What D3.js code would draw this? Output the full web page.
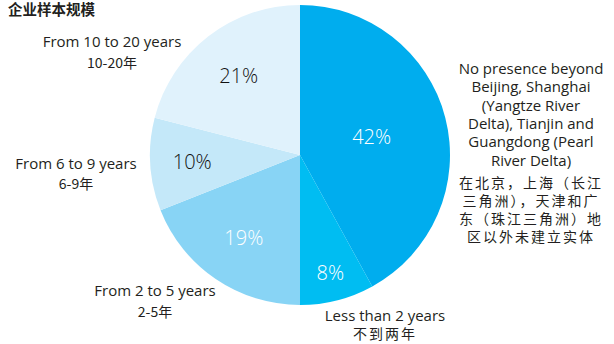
<!DOCTYPE html>
<html><head><meta charset="utf-8">
<script src="https://cdn.jsdelivr.net/npm/d3@7"></script>
<style>
html,body{margin:0;padding:0;background:#fff;}
svg{display:block;}
</style></head>
<body>
<script>
const title = "企业样本规模";
const categories = ["No presence beyond", "Less than 2 years", "From 2 to 5 years", "From 6 to 9 years", "From 10 to 20 years"];
const values = [42, 8, 19, 10, 21];
const valueLabels = ["42%", "8%", "19%", "10%", "21%"];
const enLabels = [
  ["No presence beyond", "Beijing, Shanghai", "(Yangtze River", "Delta), Tianjin and", "Guangdong (Pearl", "River Delta)"],
  ["Less than 2 years"],
  ["From 2 to 5 years"],
  ["From 6 to 9 years"],
  ["From 10 to 20 years"]
];
const zhLabels = [
  ["在北京，上海（长江", "三角洲），天津和广", "东（珠江三角洲）地", "区以外未建立实体"],
  ["不到两年"],
  ["2-5年"],
  ["6-9年"],
  ["10-20年"]
];
const colors = ["#00adee", "#00bdf2", "#88d4f5", "#c4e8f9", "#e0f2fc"];
const valueColors = ["#ffffff", "#ffffff", "#ffffff", "#111111", "#111111"];

const W = 614, H = 344;
const cx = 300, cy = 155, R = 150;
const labelR = [74, 122, 100, 108, 100];
// outside label anchor: [x, first baseline, gap to chinese line, chinese letter spacing]
const outside = [[531, 74, 22, 2], [385, 320.5, 18.5, 2], [155, 296, 21, 0], [76, 169, 19.5, 0], [112, 47, 21, 0]];

const svg = d3.select("body").append("svg").attr("width", W).attr("height", H);
const fontEN = "'Open Sans', 'Noto Sans', sans-serif";
const fontZH = "'Noto Sans CJK SC', sans-serif";

svg.append("text").attr("x", 8).attr("y", 15)
  .attr("font-family", fontZH).attr("font-weight", 700).attr("font-size", 14.5)
  .attr("fill", "#231f20").text(title);

const pie = d3.pie().sort(null).value(d => d);
const arcs = pie(values);
const arc = d3.arc().innerRadius(0).outerRadius(R);
const g = svg.append("g").attr("transform", `translate(${cx},${cy})`);
g.selectAll("path").data(arcs).join("path")
  .attr("d", arc).attr("fill", (d, i) => colors[i]);

g.selectAll("text.v").data(arcs).join("text").attr("class", "v")
  .each(function(d, i) {
    const a = (d.startAngle + d.endAngle) / 2;
    d3.select(this)
      .attr("x", labelR[i] * Math.sin(a))
      .attr("y", -labelR[i] * Math.cos(a))
      .attr("dy", "0.35em");
  })
  .attr("text-anchor", "middle")
  .attr("font-family", fontEN).attr("font-weight", 300).attr("font-size", 20)
  .attr("fill", (d, i) => valueColors[i])
  .text((d, i) => valueLabels[i]);

categories.forEach((c, i) => {
  const [x, y0, gap, ls] = outside[i];
  const t = svg.append("text").attr("text-anchor", "middle").attr("fill", "#231f20");
  let y = y0;
  enLabels[i].forEach((line, j) => {
    t.append("tspan").attr("x", x).attr("y", y)
      .attr("font-family", fontEN).attr("font-size", 15).text(line);
    y += 18.3;
  });
  y = y - 18.3 + gap;
  zhLabels[i].forEach((line, j) => {
    t.append("tspan").attr("x", x).attr("y", y)
      .attr("font-family", fontZH).attr("font-size", 14)
      .attr("letter-spacing", ls).text(line);
    y += 18.3;
  });
});
</script>
</body></html>
